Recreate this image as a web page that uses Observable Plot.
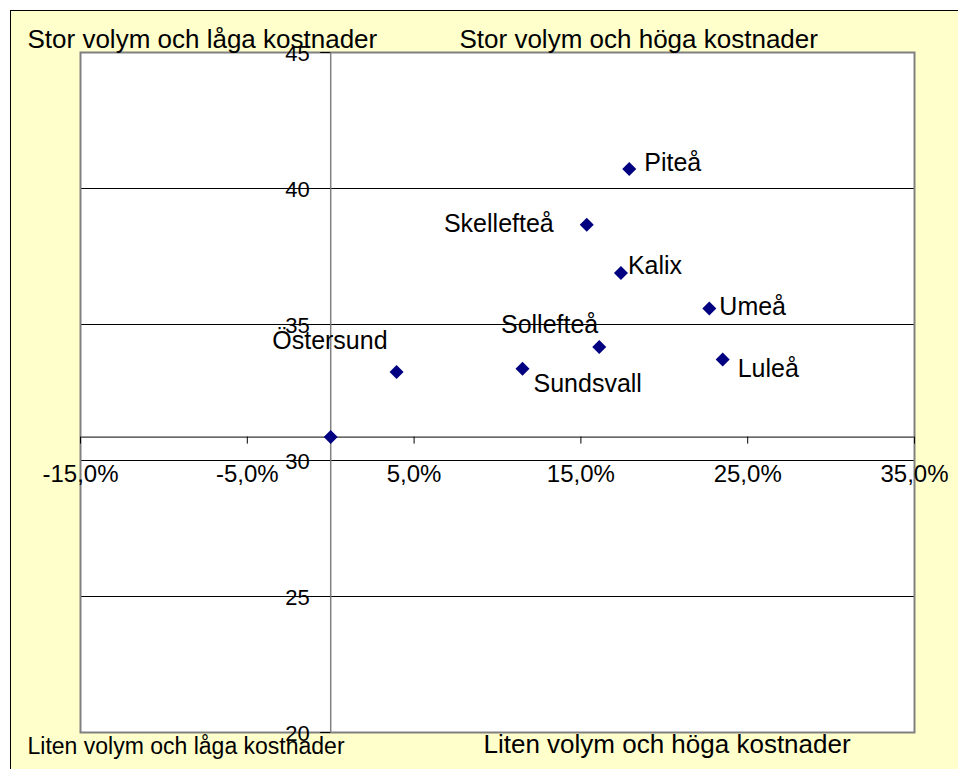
<!DOCTYPE html>
<html><head><meta charset="utf-8">
<script src="https://cdn.jsdelivr.net/npm/d3@7"></script>
<script src="https://cdn.jsdelivr.net/npm/@observablehq/plot@0.6"></script>
<style>
html,body{margin:0;padding:0;background:#fff;width:958px;height:769px;overflow:hidden;}
#box{position:absolute;left:10px;top:10px;width:1000px;height:800px;background:#FFFFCC;border-left:1px solid #000;border-top:1px solid #000;}
#chart{position:absolute;left:0;top:0;}
</style></head><body>
<div id="box"></div>
<div id="chart"></div>
<script>
// Data
const cities = ["Piteå","Skellefteå","Kalix","Umeå","Sollefteå","Sundsvall","Östersund","Luleå"];
const volumeChange = [17.9, 15.35, 17.4, 22.7, 16.1, 11.5, 3.95, 23.5]; // percent
const cost = [40.72, 38.67, 36.89, 35.59, 34.17, 33.37, 33.25, 33.71];
const crossX = 0;      // axes cross (average point)
const crossY = 30.86;
const xTicks = [-15, -5, 5, 15, 25, 35];
const yTicks = [20, 25, 30, 35, 40, 45];
const quadrantLabels = ["Stor volym och låga kostnader","Stor volym och höga kostnader","Liten volym och låga kostnader","Liten volym och höga kostnader"];

// Layout (not data)
const FONT = "'Liberation Sans', Arial, sans-serif";
const labelLayout = {
  "Piteå": {a:"start", dx:15, dy:-5.6},
  "Skellefteå": {a:"end", dx:-33, dy:-0.6},
  "Kalix": {a:"start", dx:7, dy:-6.7},
  "Umeå": {a:"start", dx:10, dy:-1},
  "Sollefteå": {a:"end", dx:-1, dy:-21.7},
  "Sundsvall": {a:"start", dx:11, dy:15.4},
  "Östersund": {a:"end", dx:-9, dy:-30.7},
  "Luleå": {a:"start", dx:15, dy:9}
};
const quadLayout = [
  {frameAnchor:"top-left", dx:-53, dy:-23.3, fontSize:26},
  {frameAnchor:"top-left", dx:379, dy:-23.3, fontSize:26},
  {frameAnchor:"bottom-left", dx:-53, dy:21.6, fontSize:23},
  {frameAnchor:"bottom-left", dx:403, dy:20.7, fontSize:26}
];

const data = cities.map((c, i) => ({name: c, x: volumeChange[i], y: cost[i]}));
const pxPerX = (914 - 80) / 50, pxPerY = (732 - 52) / 25;
const fmtPct = d => d.toFixed(1).replace(".", ",") + "%";
const DOT_R = 6.3;

const marks = [
  Plot.frame({fill: "white", stroke: null}),
  Plot.ruleY(yTicks.filter(d => d > 20 && d < 45), {y: d => d, stroke: "#000", strokeWidth: 1}),
  Plot.ruleX([crossX], {stroke: "#808080", strokeWidth: 1.5}),
  Plot.ruleY([crossY], {stroke: "#000", strokeWidth: 1}),
  Plot.frame({stroke: "#808080", strokeWidth: 2}),
  // y-axis ticks + labels
  Plot.ruleY(yTicks, {y: d => d, x1: crossX - 10 / pxPerX, x2: crossX, stroke: "#000"}),
  Plot.text(yTicks, {x: crossX, y: d => d, text: d => String(d), textAnchor: "end", dx: -21, dy: 1, fontSize: 22, fill: "#000"}),
  // x-axis ticks + labels
  Plot.ruleX(xTicks, {x: d => d, y1: crossY, y2: crossY - 7 / pxPerY, stroke: "#000"}),
  Plot.text(xTicks, {x: d => d, y: crossY, text: fmtPct, dy: 37.6, fontSize: 24, fill: "#000"}),
  // points
  Plot.dot(data, {x: "x", y: "y", symbol: "diamond2", r: DOT_R, fill: "#000080", stroke: null}),
  Plot.dot([{x: crossX, y: crossY}], {x: "x", y: "y", symbol: "diamond2", r: DOT_R, fill: "#000080", stroke: null}),
  ...data.map(d => {
    const L = labelLayout[d.name];
    return Plot.text([d], {x: "x", y: "y", text: "name", textAnchor: L.a, dx: L.dx, dy: L.dy, fontSize: 25, fill: "#000"});
  }),
  ...quadrantLabels.map((t, i) => Plot.text([t], {text: d => d, frameAnchor: quadLayout[i].frameAnchor, textAnchor: "start", dx: quadLayout[i].dx, dy: quadLayout[i].dy, fontSize: quadLayout[i].fontSize, fill: "#000"}))
];

const chart = Plot.plot({
  width: 958,
  height: 769,
  marginLeft: 80,
  marginRight: 44,
  marginTop: 52,
  marginBottom: 37,
  style: {background: "transparent", fontFamily: FONT, overflow: "visible"},
  x: {domain: [-15, 35], axis: null},
  y: {domain: [20, 45], axis: null},
  marks
});
document.getElementById("chart").appendChild(chart);
</script>
</body></html>
